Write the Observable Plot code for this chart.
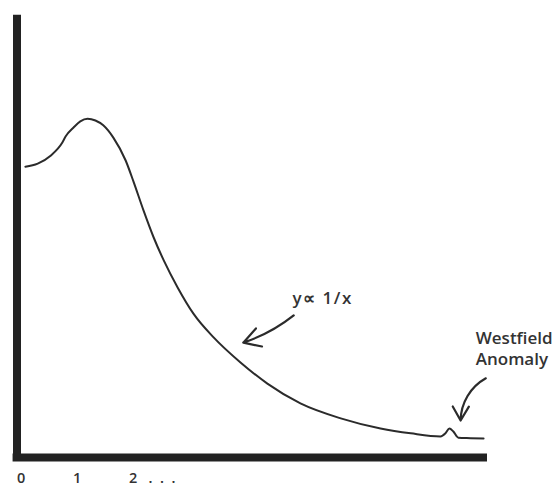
<!DOCTYPE html>
<html>
<head>
<meta charset="utf-8">
<script src="https://cdn.jsdelivr.net/npm/d3@7"></script>
<script src="https://cdn.jsdelivr.net/npm/@observablehq/plot@0.6"></script>
<style>
  html, body { margin: 0; padding: 0; background: #fff; }
  svg { display: block; }
</style>
</head>
<body>
<div id="chart"></div>
<script>
// Curve (arbitrary units)
const curveX = [0.15, 0.37, 0.60, 0.81, 0.87, 1.01, 1.13, 1.26, 1.40, 1.54, 1.72, 1.94, 2.08, 2.26, 2.44, 2.62, 2.87, 3.15, 3.51, 3.99, 4.47, 5.06, 5.78, 6.49, 7.03, 7.56, 7.65, 7.72, 7.79, 7.88, 8.10, 8.33];
const curveY = [6.61, 6.68, 6.86, 7.16, 7.30, 7.50, 7.64, 7.70, 7.66, 7.55, 7.27, 6.75, 6.27, 5.61, 5.00, 4.48, 3.86, 3.27, 2.73, 2.16, 1.68, 1.23, 0.89, 0.66, 0.55, 0.48, 0.55, 0.66, 0.59, 0.45, 0.44, 0.43];

// Tick labels
const tickValues = [0, 1, 2];
const tickLabels = ["0", "1", "2\u00a0\u00a0\u00a0.\u00a0\u00a0.\u00a0\u00a0."];

// Annotations
const annotationTexts = ["y\u221d 1/x", "Westfield\nAnomaly"];

const curve = curveX.map((x, i) => ({x, y: curveY[i]}));
const ink = "#2b2b2b";
const font = "'Open Sans', Lato, sans-serif";

const chart = Plot.plot({
  width: 554,
  height: 487,
  marginLeft: 16.5,
  marginRight: 67,
  marginTop: 17,
  marginBottom: 30,
  x: {domain: [0, 8.4], axis: null},
  y: {domain: [0, 10], axis: null},
  style: {background: "#fff", fontFamily: font, overflow: "visible"},
  marks: [
    // axes drawn as thick strokes
    Plot.ruleX([0], {y1: -0.09, y2: 10.05, stroke: "#222", strokeWidth: 8}),
    Plot.ruleY([0], {x1: -0.07, x2: 8.4, stroke: "#222", strokeWidth: 8}),
    Plot.axisX({
      ticks: tickValues,
      tickFormat: (d, i) => tickLabels[i],
      tickSize: 0,
      tickPadding: 15.5,
      textAnchor: "start",
      fontSize: 14.5,
      fontWeight: 600,
      fill: "#333"
    }),
    // the curve
    Plot.line(curve, {x: "x", y: "y", curve: "monotone-x", stroke: ink, strokeWidth: 2}),
    // annotation texts
    Plot.text([annotationTexts[0]], {x: 4.92, y: 3.61, text: d => d, textAnchor: "start", lineAnchor: "middle", fontSize: 17, fontWeight: 600, fill: "#333"}),
    Plot.text([annotationTexts[1]], {x: 8.19, y: 2.50, text: d => d, textAnchor: "start", lineAnchor: "middle", lineHeight: 1.25, fontSize: 17, fontWeight: 600, fill: "#333"}),
    // arrows
    Plot.arrow([{x1: 4.94, y1: 3.23, x2: 4.04, y2: 2.61}], {x1: "x1", y1: "y1", x2: "x2", y2: "y2", bend: 10, headLength: 13, stroke: ink, strokeWidth: 2.2}),
    Plot.arrow([{x1: 8.37, y1: 1.80, x2: 7.92, y2: 0.84}], {x1: "x1", y1: "y1", x2: "x2", y2: "y2", bend: -30, headLength: 11, stroke: ink, strokeWidth: 2.2})
  ]
});
d3.select(chart).selectAll("text")
  .filter(function() { return this.textContent === annotationTexts[0]; })
  .style("letter-spacing", "1.5px");
document.getElementById("chart").appendChild(chart);
</script>
</body>
</html>
